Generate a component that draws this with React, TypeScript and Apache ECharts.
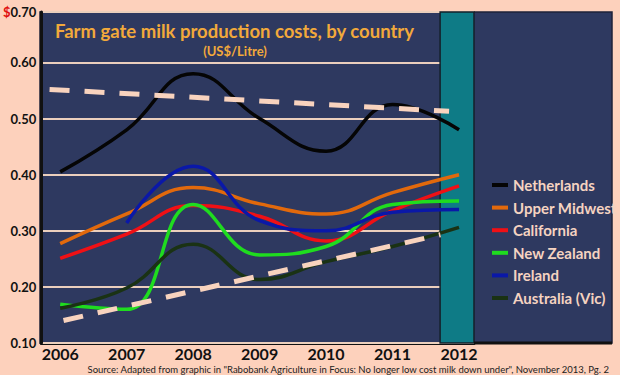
import React, { useEffect, useRef } from "react";
import * as echarts from "echarts";

const years = [2006, 2007, 2008, 2009, 2010, 2011, 2012];
const netherlands = [0.405, 0.48, 0.58, 0.5, 0.442, 0.525, 0.48];
const upperMidwest = [0.277, 0.33, 0.377, 0.348, 0.33, 0.368, 0.4];
const california = [0.251, 0.294, 0.345, 0.326, 0.282, 0.336, 0.38];
const newZealand = [0.169, 0.16, 0.347, 0.257, 0.272, 0.347, 0.353];
const ireland = [null, 0.314, 0.415, 0.318, 0.3, 0.333, 0.338];
const australia = [0.162, 0.198, 0.276, 0.213, 0.245, 0.272, 0.306];
const upperTrendX = [2005.84, 2011.85];
const upperTrendY = [0.552, 0.513];
const lowerTrendX = [2006.05, 2011.72];
const lowerTrendY = [0.14, 0.293];
const yTicks = [0.1, 0.2, 0.3, 0.4, 0.5, 0.6, 0.69];
const highlightRange = [2011.715, 2012.225];

const seriesDefs = [
  { name: "Netherlands", data: netherlands, color: "#050505" },
  { name: "Upper Midwest", data: upperMidwest, color: "#E2690C" },
  { name: "California", data: california, color: "#F01015" },
  { name: "New Zealand", data: newZealand, color: "#1FDC1F" },
  { name: "Ireland", data: ireland, color: "#0A18A8" },
  { name: "Australia (Vic)", data: australia, color: "#1A3214" },
];

export default function App() {
  const ref = useRef<HTMLDivElement>(null);
  useEffect(() => {
    if (!ref.current) return;
    const chart = echarts.init(ref.current, null, { renderer: "svg" });
    const lines = seriesDefs.map((s) => ({
      type: "line",
      name: s.name,
      data: years.map((y, i) => [y, s.data[i]]),
      smooth: 0.45,
      showSymbol: false,
      connectNulls: false,
      z: 3,
      lineStyle: { color: s.color, width: 3.5 },
      itemStyle: { color: s.color },
    }));
    const trend = (xs: number[], ys: number[]) => ({
      type: "line",
      data: xs.map((x, i) => [x, ys[i]]),
      showSymbol: false,
      z: 4,
      silent: true,
      lineStyle: { color: "#F8D3BE", width: 5, type: [20, 15], cap: "butt" },
    });
    chart.setOption({
      animation: false,
      backgroundColor: "#FDD1BC",
      graphic: [
        {
          type: "rect",
          z: -10,
          shape: { x: 40, y: 12, width: 572, height: 331 },
          style: { fill: "#2E3960", stroke: "#1E2238", lineWidth: 1.5 },
        },
        {
          type: "line",
          z: 10,
          shape: { x1: 474, y1: 343, x2: 612, y2: 343 },
          style: { stroke: "#111111", lineWidth: 3 },
        },
        {
          type: "text",
          z: 10,
          style: {
            text: "Farm gate milk production costs, by country",
            x: 55,
            y: 31,
            fill: "#F2A93B",
            font: "bold 18.5px Lato",
            align: "left",
            verticalAlign: "middle",
          },
        },
        {
          type: "text",
          z: 10,
          style: {
            text: "(US$/Litre)",
            x: 235,
            y: 51,
            fill: "#F2A93B",
            font: "bold 13px Lato",
            align: "center",
            verticalAlign: "middle",
          },
        },
        {
          type: "text",
          z: 10,
          style: {
            text:
              'Source: Adapted from graphic in "Rabobank Agriculture in Focus: No longer low cost milk down under", November 2013, Pg. 2',
            x: 609,
            y: 369.5,
            fill: "#222222",
            font: "9.5px Lato",
            lineHeight: 10,
            align: "right",
            verticalAlign: "middle",
          },
        },
      ],
      grid: { left: 40, right: 146, top: 12, bottom: 32, containLabel: false },
      legend: {
        data: seriesDefs.map((s) => s.name),
        orient: "vertical",
        left: 487,
        top: 171,
        icon: "rect",
        itemWidth: 16,
        itemHeight: 4,
        itemGap: 4.6,
        textStyle: {
          color: "#F5D3C1",
          fontSize: 15,
          fontWeight: "bold",
          fontFamily: "Lato",
          lineHeight: 18,
        },
      },
      xAxis: {
        type: "value",
        min: 2005.715,
        max: highlightRange[1],
        axisLine: { show: true, lineStyle: { color: "#111111", width: 3 } },
        axisTick: { show: false },
        splitLine: { show: false },
        axisLabel: {
          customValues: years,
          formatter: (v: number) => String(v),
          color: "#111111",
          fontSize: 16,
          fontWeight: "bold",
          fontFamily: "Lato",
          lineHeight: 12,
          margin: 4,
        },
      },
      yAxis: {
        type: "value",
        min: 0.1,
        max: 0.69,
        interval: 0.1,
        z: 1,
        axisLine: { show: true, lineStyle: { color: "#111111", width: 3 } },
        axisTick: { show: false },
        splitLine: { show: true, lineStyle: { color: "#EBCFBD", width: 2 } },
        axisLabel: {
          customValues: yTicks,
          formatter: (v: number) =>
            v > 0.65 ? "{r|$}{b|0.70}" : "{b|" + v.toFixed(2) + "}",
          margin: 5,
          rich: {
            r: { color: "#E01010", fontSize: 13, fontWeight: "bold", fontFamily: "Lato" },
            b: { color: "#111111", fontSize: 13, fontWeight: "bold", fontFamily: "Lato" },
          },
        },
      },
      series: [
        {
          type: "line",
          data: [],
          z: -1,
          silent: true,
          markArea: {
            silent: true,
            itemStyle: { color: "#0E7B86", borderColor: "#15202A", borderWidth: 1.5 },
            data: [[{ xAxis: highlightRange[0] }, { xAxis: highlightRange[1] }]],
          },
        },
        ...lines,
        trend(upperTrendX, upperTrendY),
        trend(lowerTrendX, lowerTrendY),
      ],
    });
    return () => chart.dispose();
  }, []);
  return (
    <div
      ref={ref}
      style={{ position: "fixed", left: 0, top: 0, width: 620, height: 375 }}
    />
  );
}
